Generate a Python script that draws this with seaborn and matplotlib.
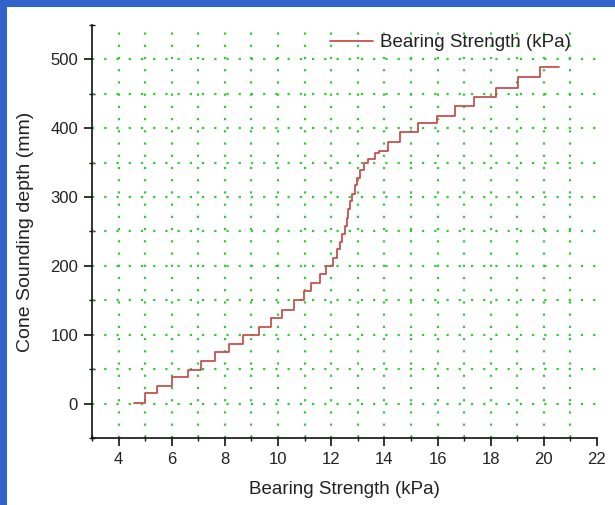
import matplotlib
matplotlib.use("Agg")
import matplotlib.pyplot as plt
import seaborn as sns
import pandas as pd
from matplotlib.patches import Rectangle
from matplotlib.ticker import MultipleLocator

# ---- data ----
strength_kpa = [4.57, 5.00, 5.46, 6.00, 6.60, 7.09, 7.64, 8.17, 8.69, 9.29,
                9.72, 10.16, 10.59, 10.96, 11.24, 11.56, 11.81, 12.06, 12.22, 12.33,
                12.42, 12.50, 12.58, 12.64, 12.72, 12.80, 12.88, 12.98, 13.10, 13.22,
                13.40, 13.64, 13.78, 14.13, 14.60, 15.27, 15.97, 16.67, 17.38, 18.20,
                19.03, 19.84, 20.56]
depth_mm = [1, 15, 25, 38, 49, 62, 75, 87, 100, 111,
            124, 136, 150, 163, 175, 188, 200, 212, 224, 235,
            247, 258, 270, 282, 294, 305, 317, 328, 340, 350,
            356, 364, 367, 380, 395, 407, 418, 432, 445, 458,
            475, 489, 489]
series_label = "Bearing Strength (kPa)"
x_label = "Bearing Strength (kPa)"
y_label = "Cone Sounding depth (mm)"
x_ticks = [4, 6, 8, 10, 12, 14, 16, 18, 20, 22]
y_ticks = [0, 100, 200, 300, 400, 500]

df = pd.DataFrame({"strength": strength_kpa, "depth": depth_mm})

sns.set_style("white")
plt.rcParams["font.family"] = ["Liberation Sans", "DejaVu Sans"]

W, H = 615, 505
fig = plt.figure(figsize=(W / 100, H / 100), dpi=100, facecolor="#3063cc")
fig.patches.append(Rectangle((7 / W, 0), 1, 1 - 7 / H, transform=fig.transFigure,
                             facecolor="white", edgecolor="none", zorder=-1))
ax = fig.add_axes([92 / W, 1 - 438 / H, (597 - 92) / W, (438 - 25) / H])
ax.set_facecolor("none")

# grid (dotted green)
grid_kw = dict(color="#2ecc2e", linestyle=(0, (1, 4.5)), linewidth=1.6, zorder=1)
for gx in range(4, 22):
    ax.axvline(gx, **grid_kw)
for gy in range(0, 501, 50):
    ax.axhline(gy, **grid_kw)

sns.lineplot(data=df, x="strength", y="depth", drawstyle="steps-post",
             color="#c4524f", linewidth=1.3, label=series_label, ax=ax,
             sort=False, estimator=None, zorder=3)

ax.set_xlim(3, 22)
ax.set_ylim(-50, 550)
ax.set_xticks(x_ticks)
ax.set_yticks(y_ticks)
ax.xaxis.set_minor_locator(MultipleLocator(1))
ax.yaxis.set_minor_locator(MultipleLocator(50))

for s in ["top", "right"]:
    ax.spines[s].set_visible(False)
for s in ["left", "bottom"]:
    ax.spines[s].set_linewidth(1.2)
    ax.spines[s].set_color("#111111")

ax.tick_params(which="both", bottom=True, left=True, top=False, right=False)
ax.tick_params(which="major", direction="out", length=6, width=1.2,
               color="#111111", labelsize=12, labelcolor="#222222", pad=4)
ax.tick_params(which="minor", direction="inout", length=5, width=1.0,
               color="#111111")

ax.set_xlabel(x_label, fontsize=13.5, color="#222222", labelpad=10)
ax.set_ylabel(y_label, fontsize=14, color="#222222", labelpad=12)

leg = ax.legend(loc="upper left", bbox_to_anchor=(330 / W, 1 - 34 / H),
                bbox_transform=fig.transFigure, frameon=False, fontsize=13.5,
                handlelength=2.3, handletextpad=0.35, borderpad=0,
                borderaxespad=0)
for t in leg.get_texts():
    t.set_color("#222222")

fig.savefig("out.png", dpi=100, facecolor=fig.get_facecolor())
